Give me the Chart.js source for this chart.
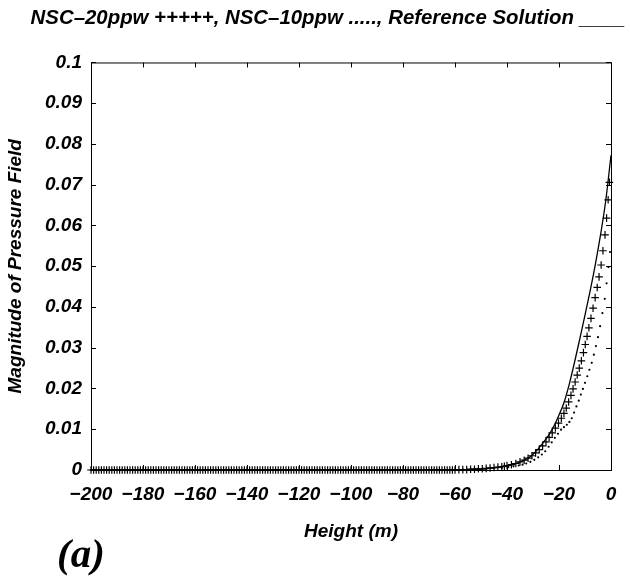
<!DOCTYPE html>
<html>
<head>
<meta charset="utf-8">
<script src="https://cdn.jsdelivr.net/npm/chart.js@4"></script>
<style>
    html, body { margin: 0; padding: 0; background: #fff; }
    #wrap { position: relative; width: 631px; height: 579px; }
    #grafico { position: absolute; left: 0; top: 0; }
    #painel {
        position: absolute; left: 57px; top: 533px;
        font: italic bold 41px "Liberation Serif", "DejaVu Serif", serif;
        line-height: 1; color: #000;
    }
</style>
</head>
<body>
<div id="wrap">
    <canvas id="grafico" width="631" height="579"></canvas>
    <div id="painel">(a)</div>
</div>
<script>
// NSC-20ppw (marcadores +)
const alturas20 = [
    -200, -199, -198, -197, -196, -195, -194, -193, -192, -191, -190, -189, -188, -187, -186,
    -185, -184, -183, -182, -181, -180, -179, -178, -177, -176, -175, -174, -173, -172, -171,
    -170, -169, -168, -167, -166, -165, -164, -163, -162, -161, -160, -159, -158, -157, -156,
    -155, -154, -153, -152, -151, -150, -149, -148, -147, -146, -145, -144, -143, -142, -141,
    -140, -139, -138, -137, -136, -135, -134, -133, -132, -131, -130, -129, -128, -127, -126,
    -125, -124, -123, -122, -121, -120, -119, -118, -117, -116, -115, -114, -113, -112, -111,
    -110, -109, -108, -107, -106, -105, -104, -103, -102, -101, -100, -99, -98, -97, -96,
    -95, -94, -93, -92, -91, -90, -89, -88, -87, -86, -85, -84, -83, -82, -81,
    -80, -79, -78, -77, -76, -75, -74, -73, -72, -71, -70, -69, -68, -67, -66,
    -65, -64, -63, -62, -61, -60,
    -58.5, -57, -55.5, -54, -52.5, -51, -49.5, -48, -46.5, -45, -43.5, -42, -41,
    -40, -38.3, -36.6, -35, -33.4, -31.9, -30.4, -29, -27.6, -26.3, -25, -23.8, -22.6, -21.4,
    -20.2, -19.1, -18.1, -17.2, -16.3, -15.4, -14.6, -13.8, -13, -12.2, -11.4, -10.6, -9.9,
    -9.2, -8.5, -7.7, -6.9, -6.1, -5.3, -4.6, -3.8, -3.1, -2.3, -1.7, -1.1, -0.6
];
const nsc20 = [
    0, 0, 0, 0, 0, 0, 0, 0, 0, 0, 0, 0, 0, 0, 0,
    0, 0, 0, 0, 0, 0, 0, 0, 0, 0, 0, 0, 0, 0, 0,
    0, 0, 0, 0, 0, 0, 0, 0, 0, 0, 0, 0, 0, 0, 0,
    0, 0, 0, 0, 0, 0, 0, 0, 0, 0, 0, 0, 0, 0, 0,
    0, 0, 0, 0, 0, 0, 0, 0, 0, 0, 0, 0, 0, 0, 0,
    0, 0, 0, 0, 0, 0, 0, 0, 0, 0, 0, 0, 0, 0, 0,
    0, 0, 0, 0, 0, 0, 0, 0, 0, 0, 0, 0, 0, 0, 0,
    0, 0, 0, 0, 0, 0, 0, 0, 0, 0, 0, 0, 0, 0, 0,
    0, 0, 0, 0, 0, 0, 0, 0, 0, 0, 0, 0, 0, 0, 0,
    0, 0, 0, 0, 0, 0,
    0.0001, 0.0001, 0.0001, 0.0002, 0.0002, 0.0003, 0.0003, 0.0004, 0.0005, 0.0006, 0.0007, 0.0008, 0.0009,
    0.0011, 0.0013, 0.0016, 0.0020, 0.0024, 0.0029, 0.0035, 0.0042, 0.0050, 0.0059, 0.0069, 0.0080, 0.0091, 0.0103,
    0.0115, 0.0127, 0.0139, 0.0152, 0.0167, 0.0183, 0.0199, 0.0216, 0.0233, 0.0250, 0.0268, 0.0288, 0.0308,
    0.0328, 0.0349, 0.0372, 0.0397, 0.0423, 0.0448, 0.0474, 0.0503, 0.0538, 0.0577, 0.0618, 0.0663, 0.0706
];

// NSC-10ppw (pontos)
const alturas10 = [
    -200, -198, -196, -194, -192, -190, -188, -186, -184, -182, -180, -178, -176, -174, -172,
    -170, -168, -166, -164, -162, -160, -158, -156, -154, -152, -150, -148, -146, -144, -142,
    -140, -138, -136, -134, -132, -130, -128, -126, -124, -122, -120, -118, -116, -114, -112,
    -110, -108, -106, -104, -102, -100, -98, -96, -94, -92, -90, -88, -86, -84, -82,
    -80, -78, -76, -74, -72, -70, -68, -66, -64, -62, -60,
    -57, -54, -51, -48, -45, -42, -39.5, -37.5, -35.5, -34, -32.6, -31, -29.5, -28, -26.6, -25.3,
    -24, -22.8, -21.6, -20.4, -19.2, -18.1, -17, -16, -15.1, -14.2, -13.3, -12.4, -11.6, -10.8,
    -10, -9.1, -8.3, -7.4, -6.6, -5.8, -5, -4.2, -3.3, -2.4, -1.7, -1, -0.4
];
const nsc10 = [
    0, 0, 0, 0, 0, 0, 0, 0, 0, 0, 0, 0, 0, 0, 0,
    0, 0, 0, 0, 0, 0, 0, 0, 0, 0, 0, 0, 0, 0, 0,
    0, 0, 0, 0, 0, 0, 0, 0, 0, 0, 0, 0, 0, 0, 0,
    0, 0, 0, 0, 0, 0, 0, 0, 0, 0, 0, 0, 0, 0, 0,
    0, 0, 0, 0, 0, 0, 0, 0, 0, 0, 0,
    0.0001, 0.0001, 0.0002, 0.0003, 0.0004, 0.0005, 0.0007, 0.0009, 0.0011, 0.0013, 0.0016, 0.0020, 0.0025, 0.0031, 0.0038, 0.0046,
    0.0057, 0.0068, 0.0079, 0.0089, 0.0099, 0.0105, 0.0111, 0.0118, 0.0127, 0.0141, 0.0156, 0.0170, 0.0185, 0.0199,
    0.0214, 0.0230, 0.0246, 0.0263, 0.0283, 0.0304, 0.0326, 0.0353, 0.0385, 0.0420, 0.0458, 0.0498, 0.0535
];

// Solução de referência (linha contínua)
const alturasRef = [-200, -150, -100, -60, -55, -50, -45, -40, -37, -34, -31, -28, -26, -24, -22, -20,
    -18, -16, -14, -12, -10, -8, -6, -4, -2, 0];
const referencia = [0, 0, 0, 0, 0.0001, 0.0002, 0.0005, 0.0010, 0.0015, 0.0022, 0.0033, 0.0052, 0.0068, 0.0085, 0.0107, 0.0135,
    0.0167, 0.0212, 0.0265, 0.0322, 0.0380, 0.0440, 0.0505, 0.0578, 0.0662, 0.0772];

const ticksX = [-200, -180, -160, -140, -120, -100, -80, -60, -40, -20, 0];
const ticksY = [0, 0.01, 0.02, 0.03, 0.04, 0.05, 0.06, 0.07, 0.08, 0.09, 0.1];

function pares(xs, ys) {
    return xs.map((x, i) => ({ x: x, y: ys[i] }));
}

const fonte = { family: "'Liberation Sans', Arial, sans-serif", size: 19, weight: "bold", style: "italic" };

// caixa com marcas de escala para dentro, estilo MATLAB
const caixa = {
    id: "caixa",
    afterDraw(chart) {
        const c = chart.ctx;
        const a = chart.chartArea;
        const sx = chart.scales.x;
        const sy = chart.scales.y;
        c.save();
        c.strokeStyle = "#000";
        c.lineWidth = 1;
        c.strokeRect(a.left + 0.5, a.top + 0.5, a.right - a.left, a.bottom - a.top);
        c.beginPath();
        ticksX.forEach(v => {
            const p = Math.round(sx.getPixelForValue(v)) + 0.5;
            c.moveTo(p, a.bottom); c.lineTo(p, a.bottom - 5);
            c.moveTo(p, a.top); c.lineTo(p, a.top + 5);
        });
        ticksY.forEach(v => {
            const p = Math.round(sy.getPixelForValue(v)) + 0.5;
            c.moveTo(a.left, p); c.lineTo(a.left + 5, p);
            c.moveTo(a.right, p); c.lineTo(a.right - 5, p);
        });
        c.stroke();
        c.restore();
    }
};

new Chart(document.getElementById("grafico").getContext("2d"), {
    type: "scatter",
    data: {
        datasets: [
            {
                label: "NSC-20ppw",
                data: pares(alturas20, nsc20),
                pointStyle: "cross",
                pointRadius: 3.8,
                borderColor: "#000",
                borderWidth: 1.2,
                clip: 6
            },
            {
                label: "NSC-10ppw",
                data: pares(alturas10, nsc10),
                pointStyle: "circle",
                pointRadius: 1.1,
                borderWidth: 0,
                backgroundColor: "#000",
                clip: 6
            },
            {
                label: "Reference Solution",
                data: pares(alturasRef, referencia),
                showLine: true,
                pointRadius: 0,
                borderColor: "#000",
                borderWidth: 1.3,
                cubicInterpolationMode: "monotone",
                clip: 6
            }
        ]
    },
    options: {
        responsive: false,
        animation: false,
        events: [],
        layout: { padding: { left: 0, right: 6, top: 0, bottom: 32 } },
        plugins: {
            legend: { display: false },
            tooltip: { enabled: false },
            title: {
                display: true,
                align: "end",
                text: "NSC\u201320ppw +++++, NSC\u201310ppw ....., Reference Solution ____",
                color: "#000",
                font: { family: fonte.family, size: 20.4, weight: "bold", style: "italic" },
                padding: { top: 6, bottom: 32 }
            }
        },
        scales: {
            x: {
                type: "linear",
                min: -200,
                max: 0,
                grid: { display: false, drawTicks: false },
                border: { display: false },
                afterBuildTicks: s => { s.ticks = ticksX.map(v => ({ value: v })); },
                afterFit: s => { s.height = 77; },
                ticks: {
                    color: "#000",
                    font: fonte,
                    padding: 13,
                    maxRotation: 0,
                    autoSkip: false,
                    callback: v => String(v).replace("-", "\u2212")
                },
                title: {
                    display: true,
                    text: "Height (m)",
                    color: "#000",
                    font: fonte,
                    padding: { top: 10 }
                }
            },
            y: {
                type: "linear",
                min: 0,
                max: 0.1,
                grid: { display: false, drawTicks: false },
                border: { display: false },
                afterBuildTicks: s => { s.ticks = ticksY.map(v => ({ value: v })); },
                afterFit: s => { s.width = 91; },
                ticks: {
                    color: "#000",
                    font: fonte,
                    padding: 9,
                    autoSkip: false,
                    callback: v => String(Number(v.toFixed(2)))
                },
                title: {
                    display: true,
                    text: "Magnitude of Pressure Field",
                    color: "#000",
                    font: fonte,
                    padding: { bottom: 0 }
                }
            },
            // margem direita vazia (só espaço)
            margem: {
                type: "linear",
                position: "right",
                display: true,
                grid: { display: false, drawTicks: false },
                border: { display: false },
                ticks: { display: false },
                afterFit: s => { s.width = 14; }
            }
        }
    },
    plugins: [caixa]
});
</script>
</body>
</html>
